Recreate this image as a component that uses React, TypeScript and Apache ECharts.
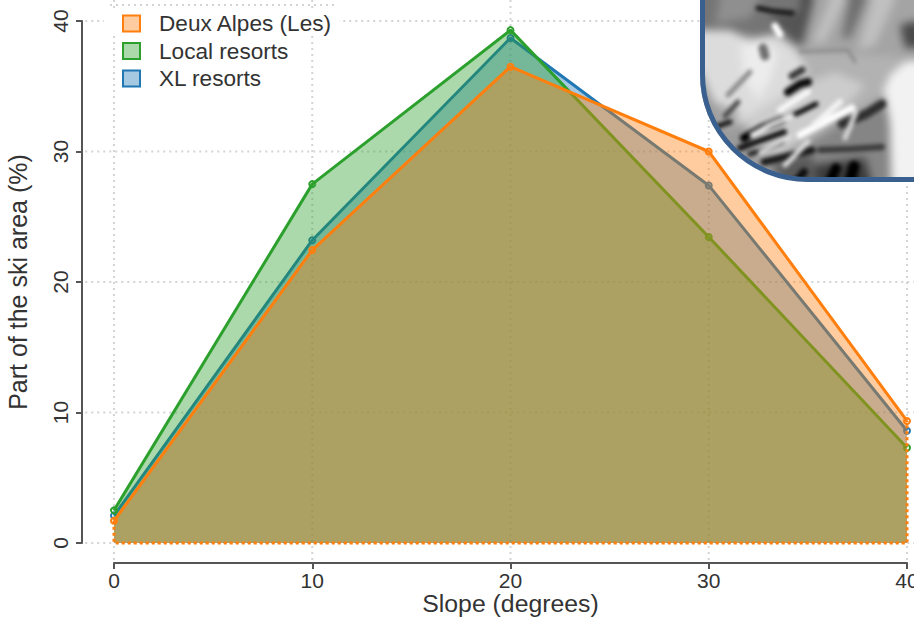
import React, { useEffect, useRef } from "react";
import * as echarts from "echarts";

const slopes = [0, 10, 20, 30, 40];
const deuxAlpes = [1.7, 22.45, 36.5, 30, 9.35];
const localResorts = [2.5, 27.5, 39.3, 23.45, 7.3];
const xlResorts = [2.1, 23.2, 38.7, 27.4, 8.6];
const yTicks = [0, 10, 20, 30, 40];
const names = ["Deux Alpes (Les)", "Local resorts", "XL resorts"];

const ORANGE = "#ff7f0e";
const GREEN = "#2ca02c";
const BLUE = "#1f77b4";
const FONT = "'Liberation Sans', Arial, sans-serif";
const TXT = "#333333";

type Blob = [string, number[]];
type Stroke = [string, number, number[]];
// Hand-drawn sketch of the hillshade inset: broad relief, softened strongly
const relief: Blob[] = [
  ["#757575", [-5, -5, 110, -5, 105, 30, 60, 36, 0, 30]],
  ["#8f8f8f", [20, 0, 60, 0, 50, 18, 15, 24]],
  ["#555555", [70, 14, 110, 10, 112, 50, 90, 40]],
  ["#505050", [100, -5, 122, -5, 116, 45, 102, 45]],
  ["#a4a4a4", [115, -5, 219, -5, 219, 60, 100, 55]],
  ["#c0c0c0", [130, 0, 145, 0, 125, 42, 112, 44]],
  ["#c0c0c0", [172, 0, 195, 0, 175, 45, 158, 50]],
  ["#6e6e6e", [150, -5, 168, -5, 150, 38, 142, 38]],
  ["#4a4a4a", [200, 25, 219, 20, 219, 48, 205, 48]],
  ["#b2b2b2", [100, 52, 190, 56, 219, 60, 190, 110, 95, 115, 95, 60]],
  ["#dcdcdc", [0, 30, 30, 30, 50, 40, 75, 34, 95, 48, 108, 72, 90, 88, 75, 110, 40, 125, 15, 105, 0, 70]],
  ["#ececec", [40, 45, 62, 40, 78, 54, 70, 80, 58, 100, 44, 78]],
  ["#f2f2f2", [190, 75, 205, 62, 219, 60, 219, 185, 192, 185, 190, 130, 183, 92]],
  ["#a6a6a6", [10, 100, 40, 112, 32, 135, 18, 122]],
  ["#cccccc", [45, 118, 90, 90, 135, 72, 165, 85, 130, 125, 80, 155, 55, 155]],
  ["#858585", [105, 148, 150, 120, 185, 95, 190, 125, 188, 185, 100, 185]],
  ["#3a3a3a", [115, 165, 165, 158, 172, 185, 110, 185]],
  ["#5a5a5a", [70, 165, 110, 152, 120, 185, 85, 185]],
];
// Ridges and gullies as strokes: [gray, width, points]
const ridges: Stroke[] = [
  ["#1a1a1a", 5, [58, 8, 72, 11, 92, 13]],
  ["#707070", 9, [63, 48, 65, 56]],
  ["#ffffff", 7, [75, 26, 80, 34]],
  ["#ffffff", 7, [100, 135, 125, 122, 152, 108]],
  ["#f4f4f4", 6, [115, 124, 140, 102]],
  ["#f8f8f8", 6, [80, 110, 108, 92]],
  ["#8a8a8a", 5, [28, 95, 50, 72]],
  ["#8a8a8a", 3, [100, 52, 148, 50, 155, 62]],
  ["#000000", 8, [44, 138, 62, 128, 82, 120]],
  ["#0a0a0a", 5, [82, 120, 100, 112, 116, 104]],
  ["#101010", 6, [40, 148, 62, 140, 84, 132]],
  ["#1a1a1a", 5, [50, 154, 68, 148, 82, 142]],
  ["#f0f0f0", 5, [52, 135, 70, 125, 92, 116]],
  ["#1a1a1a", 7, [64, 162, 88, 156, 112, 150]],
  ["#e0e0e0", 4, [60, 152, 90, 137]],
  ["#e0e0e0", 5, [85, 165, 108, 142]],
  ["#101010", 5, [18, 126, 30, 122]],
  ["#4a4a4a", 5, [25, 116, 38, 102]],
  ["#3a3a3a", 7, [92, 76, 102, 70]],
  ["#0e0e0e", 8, [88, 92, 100, 84, 108, 82]],
  ["#303030", 9, [142, 124, 166, 114, 182, 104]],
  ["#3a3a3a", 6, [120, 150, 150, 149, 182, 147]],
  ["#000000", 10, [130, 182, 136, 168]],
  ["#000000", 11, [150, 182, 154, 166]],
  ["#0e0e0e", 8, [96, 182, 104, 172]],
  ["#d8d8d8", 5, [156, 112, 145, 138]],
];

function boxBlur(g: CanvasRenderingContext2D, w: number, h: number, r: number) {
  const img = g.getImageData(0, 0, w, h);
  const src = new Float32Array(w * h);
  for (let i = 0; i < w * h; i++) src[i] = img.data[i * 4];
  const tmp = new Float32Array(w * h);
  for (let pass = 0; pass < 2; pass++) {
    for (let y = 0; y < h; y++)
      for (let x = 0; x < w; x++) {
        let s = 0;
        for (let k = -r; k <= r; k++) s += src[y * w + Math.min(w - 1, Math.max(0, x + k))];
        tmp[y * w + x] = s / (2 * r + 1);
      }
    for (let y = 0; y < h; y++)
      for (let x = 0; x < w; x++) {
        let s = 0;
        for (let k = -r; k <= r; k++) s += tmp[Math.min(h - 1, Math.max(0, y + k)) * w + x];
        src[y * w + x] = s / (2 * r + 1);
      }
  }
  for (let i = 0; i < w * h; i++) {
    img.data[i * 4] = img.data[i * 4 + 1] = img.data[i * 4 + 2] = src[i];
    img.data[i * 4 + 3] = 255;
  }
  g.putImageData(img, 0, 0);
}

function makeHillshade(w: number, h: number, r: number) {
  const c = document.createElement("canvas");
  c.width = w;
  c.height = h;
  const g = c.getContext("2d", { willReadFrequently: true })!;
  g.fillStyle = "#9a9a9a";
  g.fillRect(0, 0, w, h);
  relief.forEach(([col, pts]) => {
    g.fillStyle = col;
    g.beginPath();
    for (let i = 0; i < pts.length; i += 2) {
      if (i === 0) g.moveTo(pts[i], pts[i + 1]);
      else g.lineTo(pts[i], pts[i + 1]);
    }
    g.closePath();
    g.fill();
  });
  boxBlur(g, w, h, 4);
  g.lineCap = "round";
  g.lineJoin = "round";
  ridges.forEach(([col, width, pts]) => {
    g.strokeStyle = col;
    g.lineWidth = width;
    g.beginPath();
    for (let i = 0; i < pts.length; i += 2) {
      if (i === 0) g.moveTo(pts[i], pts[i + 1]);
      else g.lineTo(pts[i], pts[i + 1]);
    }
    g.stroke();
  });
  boxBlur(g, w, h, 2);
  g.globalCompositeOperation = "destination-in";
  g.beginPath();
  g.moveTo(0, 0);
  g.lineTo(w, 0);
  g.lineTo(w, h);
  g.lineTo(r, h);
  g.arcTo(0, h, 0, h - r, r);
  g.closePath();
  g.fillStyle = "#000";
  g.fill();
  return c.toDataURL("image/png");
}

function areaSeries(name: string, values: number[], color: string, z: number) {
  return {
    type: "line",
    name,
    data: slopes.map((s, i) => [s, values[i]]),
    z,
    clip: false,
    symbol: "circle",
    symbolSize: 6,
    showAllSymbol: true,
    lineStyle: { color, width: 3 },
    itemStyle: { color: "rgba(255,255,255,0)", borderColor: color, borderWidth: 2 },
    areaStyle: { color, opacity: 0.4 },
  };
}

export default function App() {
  const ref = useRef<HTMLDivElement>(null);
  useEffect(() => {
    document.body.style.margin = "0";
    const chart = echarts.init(ref.current!, null, { renderer: "svg" });
    const gridRows = [
      ...slopes.map((x) => [x, -1.3, x, 42]),
      ...yTicks.map((y) => [-1.45, y, 40.5, y]),
    ];
    const legendItem = (name: string, color: string) => ({
      name,
      icon: "rect",
      itemStyle: { color: color + "66", borderColor: color, borderWidth: 2, opacity: 1 },
      lineStyle: { width: 0, opacity: 0 },
    });
    chart.setOption({
      animation: false,
      backgroundColor: "#ffffff",
      grid: { left: 114, right: 7, top: 21, bottom: 76, containLabel: false, outerBoundsMode: "none" },
      xAxis: {
        type: "value",
        min: 0,
        max: 40,
        interval: 10,
        offset: 20,
        name: "Slope (degrees)",
        nameLocation: "middle",
        nameGap: 28,
        nameMoveOverlap: false,
        nameTextStyle: { fontFamily: FONT, fontSize: 24.8, color: TXT },
        axisLine: { show: true, onZero: false, lineStyle: { color: "#555", width: 2 } },
        axisTick: { show: true, length: 6, lineStyle: { color: "#555", width: 2 } },
        axisLabel: { fontFamily: FONT, fontSize: 21, color: TXT, margin: 7, hideOverlap: false, showMinLabel: true, showMaxLabel: true },
        splitLine: { show: false },
      },
      yAxis: {
        type: "value",
        min: 0,
        max: 40,
        interval: 10,
        offset: 32,
        name: "Part of the ski area (%)",
        nameLocation: "middle",
        nameGap: 52,
        nameMoveOverlap: false,
        nameTextStyle: { fontFamily: FONT, fontSize: 25, color: TXT },
        axisLine: { show: true, onZero: false, lineStyle: { color: "#555", width: 2 } },
        axisTick: { show: true, length: 6, lineStyle: { color: "#555", width: 2 } },
        axisLabel: { fontFamily: FONT, fontSize: 21, color: TXT, rotate: 90, margin: 22, verticalAlign: "middle", align: "center", showMinLabel: true, showMaxLabel: true },
        splitLine: { show: false },
      },
      legend: {
        left: 122,
        top: 12,
        orient: "vertical",
        itemWidth: 17,
        itemHeight: 16,
        itemGap: 4.5,
        padding: 0,
        selectedMode: false,
        textStyle: { fontFamily: FONT, fontSize: 22.6, color: TXT, padding: [0, 0, 0, 14], lineHeight: 22 },
        data: [legendItem(names[0], ORANGE), legendItem(names[1], GREEN), legendItem(names[2], BLUE)],
      },
      graphic: [
        { type: "rect", z: 1, shape: { x: 104, y: 8, width: 235, height: 24 }, style: { fill: "#fff" } },
        { type: "line", z: 1, shape: { x1: 110, y1: 5, x2: 338, y2: 5 }, style: { stroke: "#d4d4d4", lineWidth: 2, lineDash: [2, 4] } },
        { type: "image", z: 20, x: 700, y: 0, style: { image: makeHillshade(214, 180, 105), x: 0, y: 0, width: 214, height: 180 } },
        {
          type: "rect",
          z: 21,
          shape: { x: 702.5, y: -120, width: 400, height: 299.5, r: 105 },
          style: { fill: "none", stroke: "#3a6090", lineWidth: 5 },
        },
      ],
      series: [
        {
          type: "custom",
          name: "grid",
          z: 0,
          clip: false,
          silent: true,
          data: gridRows,
          encode: { x: [0, 2], y: [1, 3] },
          renderItem: (_p: any, api: any) => {
            const a = api.coord([api.value(0), api.value(1)]);
            const b = api.coord([api.value(2), api.value(3)]);
            return {
              type: "line",
              shape: { x1: a[0], y1: a[1], x2: b[0], y2: b[1] },
              style: { stroke: "#d4d4d4", lineWidth: 2, lineDash: [2, 4], fill: "none" },
            };
          },
        },
        areaSeries(names[2], xlResorts, BLUE, 3),
        areaSeries(names[1], localResorts, GREEN, 4),
        areaSeries(names[0], deuxAlpes, ORANGE, 5),
        {
          type: "line",
          name: "edge",
          z: 6,
          clip: false,
          symbol: "none",
          data: [
            [slopes[0], deuxAlpes[0]],
            [slopes[0], 0],
            [slopes[4], 0],
            [slopes[4], deuxAlpes[4]],
          ],
          lineStyle: { color: ORANGE, width: 3, type: [3, 3] },
        },
      ],
    });
    return () => chart.dispose();
  }, []);
  return <div ref={ref} style={{ width: 914, height: 619 }} />;
}
